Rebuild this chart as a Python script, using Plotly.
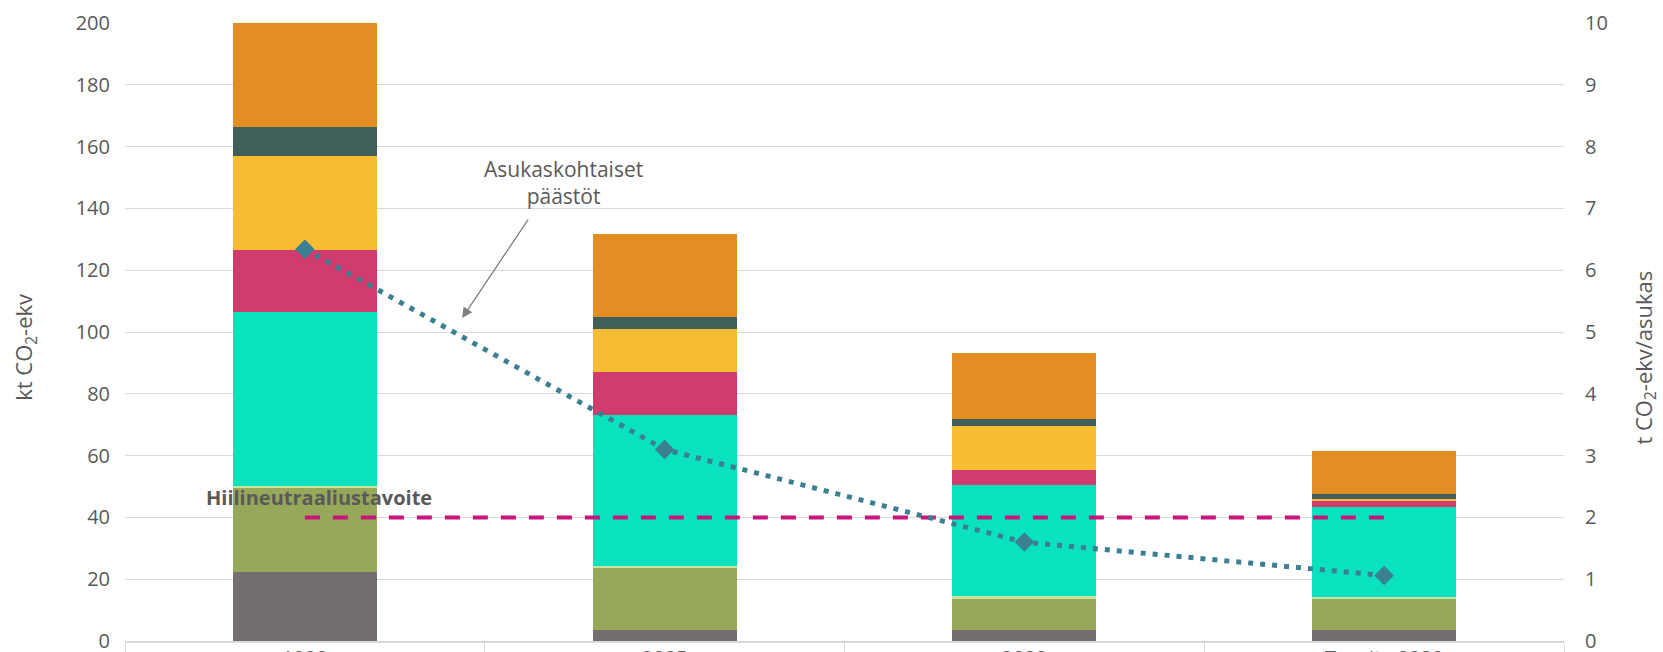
import plotly.graph_objects as go

# Categories (x axis)
categories = ["1990", "2005", "2022", "Tavoite 2030"]

# Stacked emission components, kt CO2-ekv (bottom to top)
seg_grey = [22.3, 3.65, 3.5, 3.4]
seg_olive = [27.3, 19.95, 10.2, 10.1]
seg_lightgreen = [0.7, 0.7, 0.75, 0.7]
seg_teal = [56.2, 48.8, 36.15, 29.2]
seg_pink = [20.2, 13.8, 4.8, 1.8]
seg_yellow = [30.3, 14.2, 14.2, 0.7]
seg_darkgreen = [9.5, 3.8, 2.1, 1.8]
seg_orange = [33.5, 26.8, 21.4, 13.8]

# Per-capita emissions, t CO2-ekv/asukas (right axis)
per_capita = [6.34, 3.10, 1.60, 1.06]

# Carbon-neutrality target level, kt CO2-ekv
target = [40, 40, 40, 40]

segments = [
    ("Sektori 1", seg_grey, "#746F6E"),
    ("Sektori 2", seg_olive, "#97A85A"),
    ("Sektori 3", seg_lightgreen, "#C5E59A"),
    ("Sektori 4", seg_teal, "#0AE1BF"),
    ("Sektori 5", seg_pink, "#D03C6E"),
    ("Sektori 6", seg_yellow, "#F6BC33"),
    ("Sektori 7", seg_darkgreen, "#405E5A"),
    ("Sektori 8", seg_orange, "#E28E22"),
]

TEXT = "#595959"
GRID = "#D9D9D9"
FONT = "Open Sans"

fig = go.Figure()

for name, vals, color in segments:
    fig.add_trace(go.Bar(
        x=categories, y=vals, name=name,
        marker=dict(color=color, line=dict(width=0)),
        yaxis="y",
    ))

fig.add_trace(go.Scatter(
    x=categories, y=target, name="Hiilineutraaliustavoite",
    mode="lines",
    line=dict(color="#C8157E", width=4, dash="15px,13px"),
    yaxis="y",
))

fig.add_trace(go.Scatter(
    x=categories, y=per_capita, name="Asukaskohtaiset päästöt",
    mode="lines+markers",
    line=dict(color="#3A7F92", width=5, dash="5px,7px"),
    marker=dict(symbol="diamond", size=15, color="#3A7F92"),
    yaxis="y2",
))

fig.update_layout(
    width=1663, height=652,
    margin=dict(l=125, r=99, t=23, b=11, autoexpand=False),
    paper_bgcolor="white", plot_bgcolor="white",
    barmode="stack", bargap=0.6,
    showlegend=False,
    font=dict(family=FONT, color=TEXT, size=20),
    xaxis=dict(
        type="category",
        showgrid=False,
        showline=True, linecolor=GRID, linewidth=2,
        ticks="outside", tickson="boundaries", ticklen=16,
        tickcolor=GRID, tickwidth=1,
        tickfont=dict(size=20, color=TEXT),
        ticklabelstandoff=-2,
        automargin=False,
    ),
    yaxis=dict(
        range=[0, 200], dtick=20,
        showgrid=True, gridcolor=GRID, gridwidth=1,
        zeroline=False, showline=False,
        tickfont=dict(size=20, color=TEXT),
        ticklabelstandoff=14,
        ticklabeloverflow="allow",
        automargin=False,
    ),
    yaxis2=dict(
        range=[0, 10], dtick=1,
        overlaying="y", side="right",
        showgrid=False, zeroline=False, showline=False,
        tickfont=dict(size=20, color=TEXT),
        ticklabelstandoff=20,
        ticklabeloverflow="allow",
        automargin=False,
    ),
    annotations=[
        dict(text="kt CO<sub>2</sub>-ekv", xref="paper", yref="paper",
             x=-0.0695, y=0.476, textangle=-90, showarrow=False,
             font=dict(size=22, color=TEXT), xanchor="center", yanchor="middle"),
        dict(text="t CO<sub>2</sub>-ekv/asukas", xref="paper", yref="paper",
             x=1.056, y=0.458, textangle=-90, showarrow=False,
             font=dict(size=22, color=TEXT), xanchor="center", yanchor="middle"),
        dict(text="<b>Hiilineutraaliustavoite</b>", xref="x", yref="y",
             x=0.039, y=46.5, showarrow=False,
             font=dict(size=20, color=TEXT), xanchor="center", yanchor="middle"),
        dict(text="Asukaskohtaiset<br>päästöt", xref="x", yref="y",
             x=0.72, y=148.3, showarrow=False,
             font=dict(size=21, color=TEXT), xanchor="center", yanchor="middle"),
        dict(text="", xref="x", yref="y", x=0.437, y=104.5,
             showarrow=True, ax=67, ay=-100, axref="pixel", ayref="pixel",
             arrowhead=2, arrowsize=1.6, arrowwidth=1.3, arrowcolor="#7F7F7F"),
    ],
)

fig.write_html("out.html")
